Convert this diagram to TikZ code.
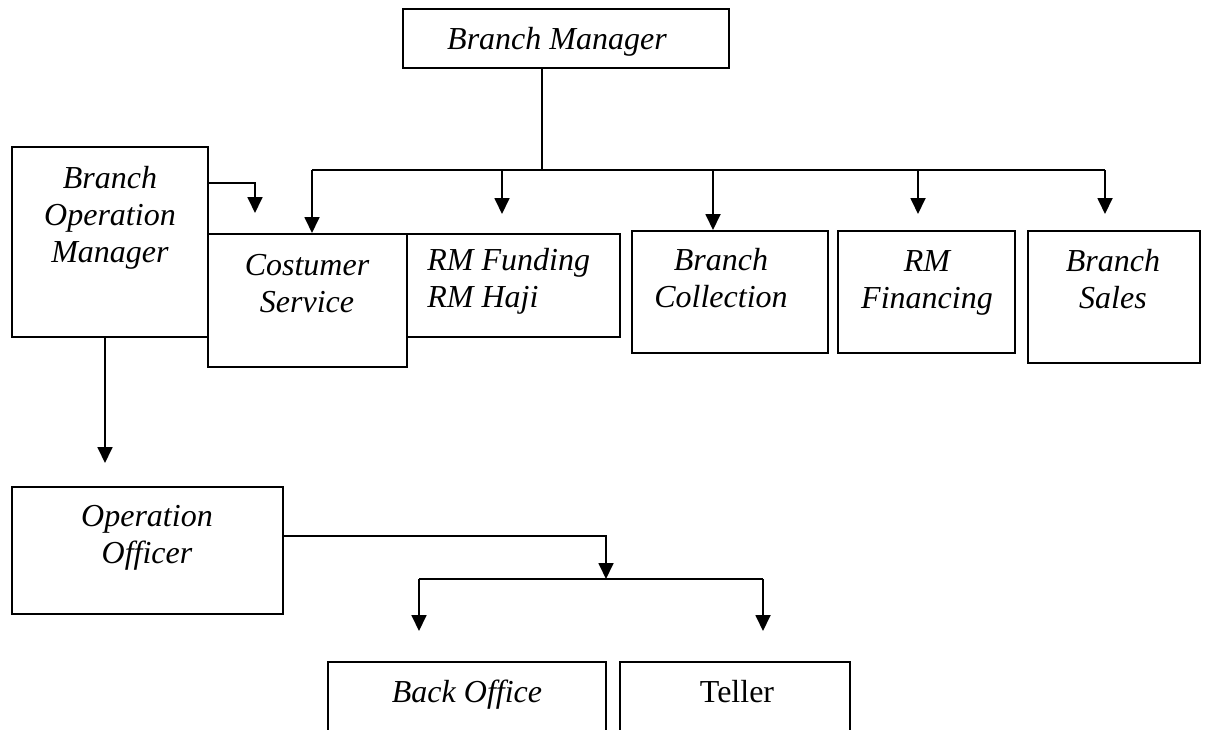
\documentclass[tikz,border=0pt]{standalone}
\usepackage{fontspec}
\setmainfont{Liberation Serif}
\usetikzlibrary{arrows.meta,fit,positioning}
\tikzset{
box/.style={draw, rectangle, line width=1pt, inner sep=0pt},
lbl/.style={inner sep=0pt, anchor=base, align=center, font=\fontsize{16}{18.3}\selectfont\itshape},
lbll/.style={lbl, align=left, anchor=base west},
conn/.style={line width=0.9pt},
arr/.style={conn, -{Triangle[width=7.5pt,length=8pt]}}
}

\begin{document}
\begin{tikzpicture}[x=0.5pt, y=-0.5pt]
\clip (0,0) rectangle (1205,729);

% boxes
\node[box, fit={(403,9) (729,68)}] (bm) {};
\node[box, fit={(12,147) (208,337)}] (bom) {};
\node[box, fit={(208,234) (407,367)}] (cs) {};
\node[box, fit={(407,234) (620,337)}] (rmf) {};
\node[box, fit={(632,231) (828,353)}] (bc) {};
\node[box, fit={(838,231) (1015,353)}] (rmfin) {};
\node[box, fit={(1028,231) (1200,363)}] (bs) {};
\node[box, fit={(12,487) (283,614)}] (oo) {};
\node[box, fit={(328,662) (606,760)}] (bo) {};
\node[box, fit={(620,662) (850,760)}] (tel) {};

% texts (base = last line)
\node[lbl] (bm-t) at (557,49) {Branch Manager};
\node[lbl] (bom-t) at (110,262) {Branch\\Operation\\Manager};
\node[lbl] (cs-t) at (307,312) {Costumer\\Service};
\node[lbll] (rmf-t) at (427,307) {RM Funding\\RM Haji};
\node[lbl] (bc-t) at (721,307) {Branch\\Collection};
\node[lbl] (rmfin-t) at (927,308) {RM\\Financing};
\node[lbl] (bs-t) at (1113,308) {Branch\\Sales};
\node[lbl] (oo-t) at (147,563) {Operation\\Officer};
\node[lbl] (bo-t) at (467,702) {Back Office};
\node[lbl, font=\fontsize{16}{18.3}\selectfont\upshape] (tel-t) at (737,702) {Teller};

% connectors
\coordinate (bmdown) at (542,170);
\coordinate (barl) at (312,170);
\coordinate (barr) at (1105,170);
\coordinate (t-rmf) at (502,214);
\coordinate (t-bc) at (713,214);
\coordinate (t-rmfin) at (918,214);
\coordinate (t-bs) at (1105,214);
\coordinate (t-bom) at (255,213);
\coordinate (t-oo) at (105,463);
\coordinate (j-low) at (606,579);
\coordinate (lowl) at (419,579);
\coordinate (lowr) at (763,579);
\coordinate (t-bo) at (419,631);
\coordinate (t-tel) at (763,631);

\draw[line width=0.6pt] (bmdown |- bm.south) -- (bmdown);
\draw[conn] (barl) -- (barr);
\draw[arr] (barl) -- (barl |- cs.north);
\draw[arr] (t-bc |- barl) -- (t-bc |- bc.north);
\foreach \n in {rmf,rmfin,bs}
  \draw[arr] (t-\n |- barl) -- (t-\n);

\draw[arr] ([yshift=-18.5pt]bom.north east) -| (t-bom);
\draw[arr] (t-oo |- bom.south) -- (t-oo);

\draw[arr] ([yshift=7.25pt]oo.east) -| (j-low);
\draw[conn] (lowl) -- (lowr);
\draw[arr] (lowl) -- (t-bo);
\draw[arr] (lowr) -- (t-tel);
\end{tikzpicture}
\end{document}
